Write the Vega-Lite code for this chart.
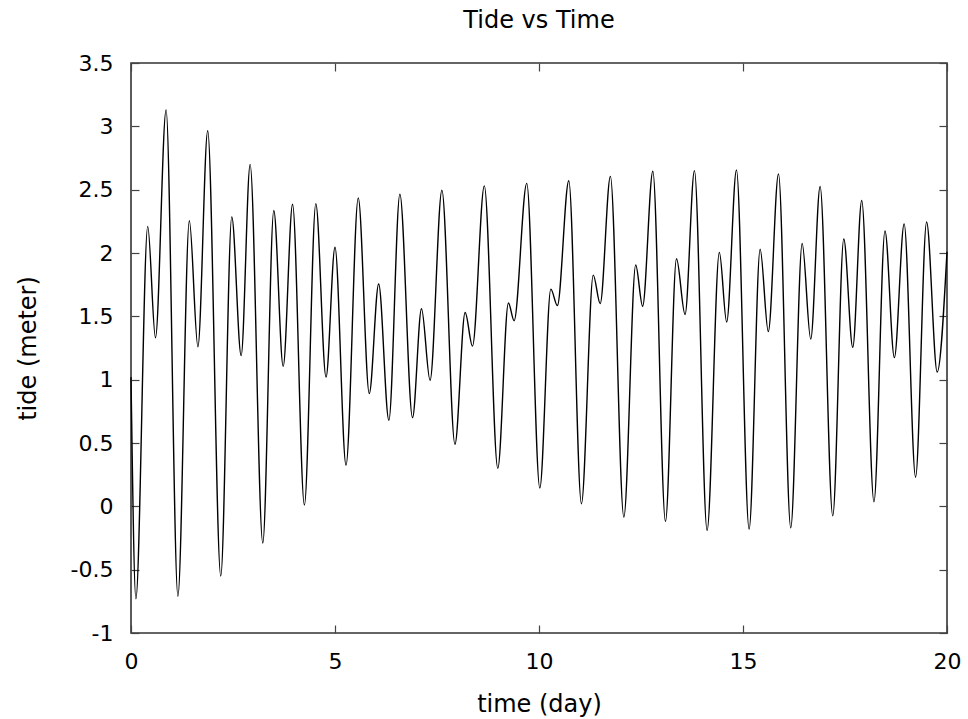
{
  "$schema": "https://vega.github.io/schema/vega-lite/v6.json",
  "width": 816,
  "height": 570,
  "autosize": {"type": "none"},
  "padding": {"left": 131, "top": 63, "right": 21, "bottom": 86},
  "background": "white",
  "title": {"text": "Tide vs Time", "font": "DejaVu Sans", "fontSize": 24, "fontWeight": "normal", "color": "#000", "anchor": "middle", "offset": 19},
  "config": {
    "view": {"stroke": "#333", "strokeWidth": 1.6},
    "axis": {"grid": false, "domain": false, "tickColor": "#444", "tickWidth": 1.2, "labelFont": "DejaVu Sans", "labelFontSize": 22, "labelColor": "#000", "titleFont": "DejaVu Sans", "titleFontSize": 24, "titleFontWeight": "normal", "titleColor": "#000", "labelExpr": "'' + datum.value"}
  },
  "data": {"values": [
    {"t": 0.0, "h": 1.02},
    {"t": 0.12, "h": -0.73},
    {"t": 0.41, "h": 2.21},
    {"t": 0.60, "h": 1.33},
    {"t": 0.86, "h": 3.13},
    {"t": 1.15, "h": -0.71},
    {"t": 1.43, "h": 2.255},
    {"t": 1.64, "h": 1.26},
    {"t": 1.88, "h": 2.965},
    {"t": 2.20, "h": -0.55},
    {"t": 2.47, "h": 2.285},
    {"t": 2.70, "h": 1.19},
    {"t": 2.92, "h": 2.70},
    {"t": 3.23, "h": -0.29},
    {"t": 3.50, "h": 2.335},
    {"t": 3.73, "h": 1.105},
    {"t": 3.96, "h": 2.385},
    {"t": 4.25, "h": 0.01},
    {"t": 4.53, "h": 2.39},
    {"t": 4.78, "h": 1.02},
    {"t": 5.00, "h": 2.045},
    {"t": 5.27, "h": 0.325},
    {"t": 5.57, "h": 2.435},
    {"t": 5.84, "h": 0.89},
    {"t": 6.07, "h": 1.755},
    {"t": 6.32, "h": 0.68},
    {"t": 6.59, "h": 2.465},
    {"t": 6.90, "h": 0.70},
    {"t": 7.12, "h": 1.56},
    {"t": 7.33, "h": 0.995},
    {"t": 7.62, "h": 2.495},
    {"t": 7.94, "h": 0.49},
    {"t": 8.19, "h": 1.53},
    {"t": 8.37, "h": 1.265},
    {"t": 8.66, "h": 2.53},
    {"t": 8.99, "h": 0.30},
    {"t": 9.25, "h": 1.605},
    {"t": 9.39, "h": 1.465},
    {"t": 9.70, "h": 2.55},
    {"t": 10.02, "h": 0.145},
    {"t": 10.29, "h": 1.715},
    {"t": 10.45, "h": 1.585},
    {"t": 10.73, "h": 2.57},
    {"t": 11.04, "h": 0.02},
    {"t": 11.33, "h": 1.825},
    {"t": 11.50, "h": 1.60},
    {"t": 11.75, "h": 2.605},
    {"t": 12.08, "h": -0.085},
    {"t": 12.37, "h": 1.905},
    {"t": 12.54, "h": 1.58},
    {"t": 12.79, "h": 2.645},
    {"t": 13.10, "h": -0.12},
    {"t": 13.37, "h": 1.955},
    {"t": 13.58, "h": 1.515},
    {"t": 13.81, "h": 2.65},
    {"t": 14.12, "h": -0.19},
    {"t": 14.42, "h": 2.005},
    {"t": 14.60, "h": 1.455},
    {"t": 14.84, "h": 2.655},
    {"t": 15.15, "h": -0.18},
    {"t": 15.42, "h": 2.03},
    {"t": 15.62, "h": 1.38},
    {"t": 15.87, "h": 2.625},
    {"t": 16.17, "h": -0.17},
    {"t": 16.45, "h": 2.075},
    {"t": 16.66, "h": 1.32},
    {"t": 16.89, "h": 2.525},
    {"t": 17.20, "h": -0.075},
    {"t": 17.47, "h": 2.11},
    {"t": 17.69, "h": 1.255},
    {"t": 17.91, "h": 2.415},
    {"t": 18.21, "h": 0.035},
    {"t": 18.48, "h": 2.175},
    {"t": 18.71, "h": 1.175},
    {"t": 18.95, "h": 2.23},
    {"t": 19.23, "h": 0.23},
    {"t": 19.50, "h": 2.245},
    {"t": 19.76, "h": 1.06},
    {"t": 20.0, "h": 2.01}
  ]},
  "layer": [
    {
      "mark": {"type": "line", "interpolate": "monotone", "color": "#000", "strokeWidth": 1.4},
      "encoding": {
        "x": {"field": "t", "type": "quantitative", "scale": {"domain": [0, 20], "nice": false, "zero": false},
              "axis": {"title": "time (day)", "values": [0, 5, 10, 15, 20], "tickSize": -8, "labelPadding": 26, "titlePadding": 20, "labelFlush": false}},
        "y": {"field": "h", "type": "quantitative", "scale": {"domain": [-1, 3.5], "nice": false, "zero": false},
              "axis": {"title": "tide (meter)", "values": [-1, -0.5, 0, 0.5, 1, 1.5, 2, 2.5, 3, 3.5], "tickSize": -8, "labelPadding": 26, "titlePadding": 30, "labelFlush": false}}
      }
    },
    {
      "mark": {"type": "line", "opacity": 0},
      "encoding": {
        "x": {"field": "t", "type": "quantitative", "axis": {"orient": "top", "title": null, "labels": false, "values": [0, 5, 10, 15, 20], "tickSize": -8}},
        "y": {"field": "h", "type": "quantitative", "axis": {"orient": "right", "title": null, "labels": false, "values": [-1, -0.5, 0, 0.5, 1, 1.5, 2, 2.5, 3, 3.5], "tickSize": -8}}
      }
    }
  ],
  "resolve": {"axis": {"x": "independent", "y": "independent"}}
}
